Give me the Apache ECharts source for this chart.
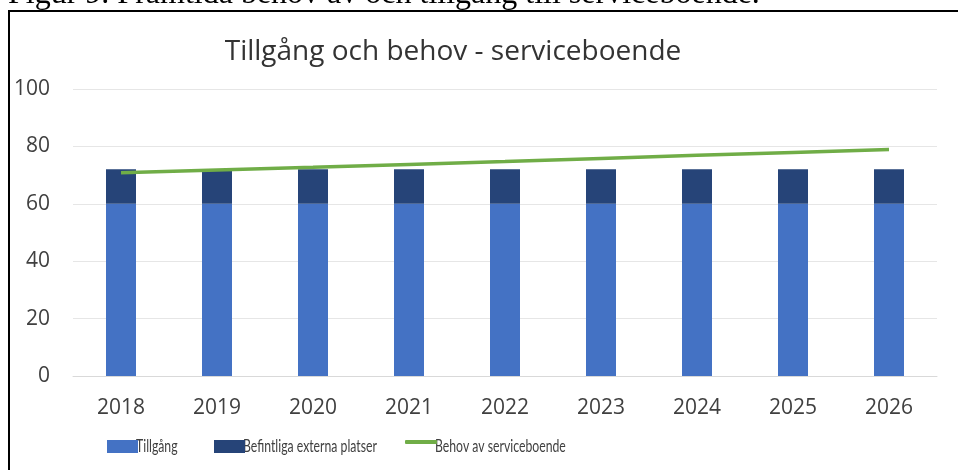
<!DOCTYPE html>
<html>
<head>
<meta charset="utf-8">
<script src="https://cdn.jsdelivr.net/npm/echarts@6/dist/echarts.min.js"></script>
<style>
html,body{margin:0;padding:0;background:#fff;}
#graph{width:958px;height:470px;}
</style>
</head>
<body>
<div id="graph"></div>
<script>
var years = ['2018','2019','2020','2021','2022','2023','2024','2025','2026'];
var tillgang = [60,60,60,60,60,60,60,60,60];
var externa = [12,12,12,12,12,12,12,12,12];
var behov = [70.8,71.8,72.7,73.7,74.7,75.8,76.9,77.9,78.9];
var yTicks = [0,20,40,60,80,100];
var seriesNames = ['Tillgång', 'Befintliga externa platser', 'Behov av serviceboende'];

var dom = document.getElementById("graph");
var myChart = echarts.init(dom);
var labelFont = '"Open Sans", "Noto Sans", sans-serif';
// legend texts are drawn squeezed, like the narrow font in the original
var legendX = [102, 209, 400];
var legendTextX = [136, 243, 435];
var graphics = [
    { type: 'text', left: 8, top: -21,
      style: { text: 'Figur 9. Framtida behov av och tillgång till serviceboende.',
               font: '32px "Liberation Serif", serif', fill: '#000' } },
    { type: 'rect', shape: { x: 8, y: 10, width: 950, height: 2 }, style: { fill: '#000' } },
    { type: 'rect', shape: { x: 8, y: 10, width: 2, height: 460 }, style: { fill: '#000' } }
];
for (var i = 0; i < seriesNames.length; i++) {
    graphics.push({ type: 'text', x: legendTextX[i], y: 446, scaleX: 0.68,
        style: { text: seriesNames[i], font: '18px Lato, "Open Sans", sans-serif',
                 fill: '#404040', verticalAlign: 'middle' } });
}
var legends = [];
for (var j = 0; j < seriesNames.length; j++) {
    legends.push({
        left: legendX[j], top: 435,
        itemWidth: j == 2 ? 32 : 31,
        itemHeight: j == 2 ? 4 : 13,
        formatter: function () { return ''; },
        textStyle: { fontSize: 1 },
        data: [{ name: seriesNames[j], icon: j == 2 ? 'roundRect' : 'rect' }]
    });
}
var option = {
    animation: false,
    backgroundColor: '#fff',
    title: {
        text: 'Tillgång och behov - serviceboende',
        left: 448,
        textAlign: 'center',
        top: 33,
        textStyle: { fontFamily: labelFont, fontWeight: 'normal', fontSize: 28, color: '#333' }
    },
    graphic: graphics,
    grid: { left: 73, right: 21, top: 89, bottom: 94 },
    legend: legends,
    xAxis: {
        type: 'category',
        data: years,
        axisLine: { lineStyle: { color: '#d9d9d9' } },
        axisTick: { show: false },
        axisLabel: { fontFamily: labelFont, fontSize: 21, color: '#404040', margin: 22 }
    },
    yAxis: {
        type: 'value',
        min: yTicks[0],
        max: yTicks[yTicks.length - 1],
        interval: 20,
        axisLine: { show: false },
        axisTick: { show: false },
        splitLine: { lineStyle: { color: '#e6e6e6', width: 1 } },
        axisLabel: { fontFamily: labelFont, fontSize: 21, color: '#404040', margin: 23 }
    },
    series: [
        {
            name: seriesNames[0],
            type: 'bar',
            stack: 'platser',
            barWidth: 30,
            data: tillgang,
            itemStyle: { color: '#4472c4' }
        },
        {
            name: seriesNames[1],
            type: 'bar',
            stack: 'platser',
            barWidth: 30,
            data: externa,
            itemStyle: { color: '#264478' }
        },
        {
            name: seriesNames[2],
            type: 'line',
            data: behov,
            symbol: 'none',
            lineStyle: { color: '#70ad47', width: 3.5 },
            itemStyle: { color: '#70ad47' },
            z: 5
        }
    ]
};
myChart.setOption(option, true);
</script>
</body>
</html>
